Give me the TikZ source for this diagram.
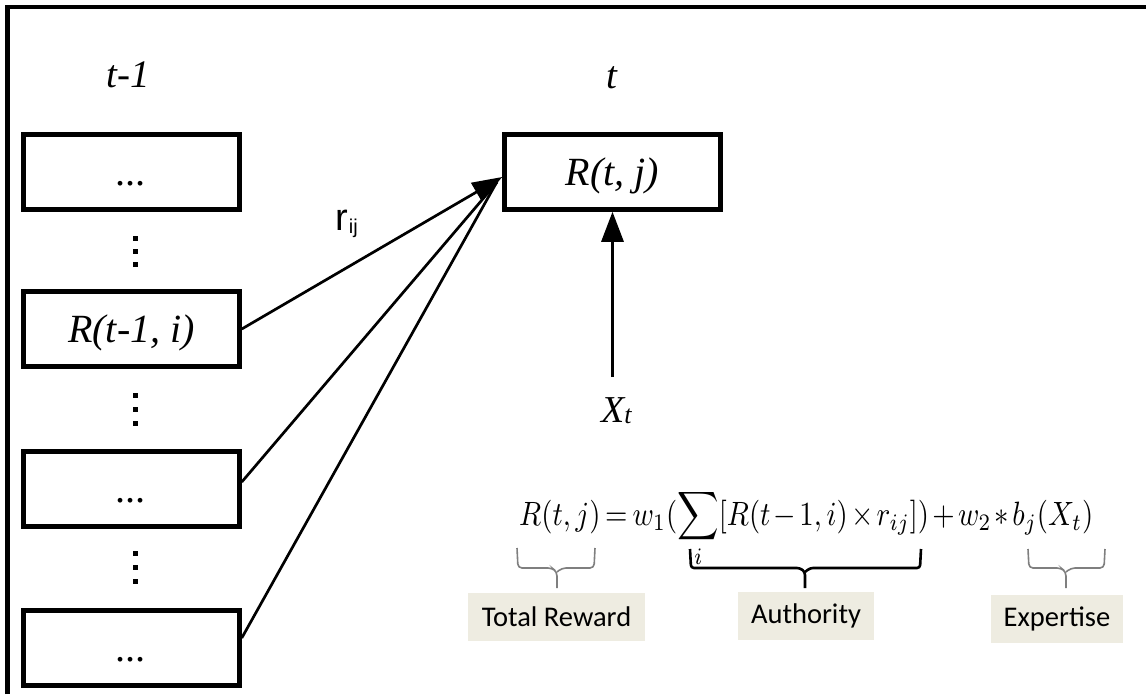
\documentclass[tikz,border=0pt]{standalone}
\usepackage{fontspec}
\setmainfont{Liberation Serif}
\newfontfamily\labelfont{Carlito}
\newfontfamily\weightfont{Liberation Sans}
\usetikzlibrary{arrows.meta,calc}
\definecolor{labelbg}{HTML}{EEECE1}
\definecolor{bracegray}{HTML}{7F7F7F}

\begin{document}
\begin{tikzpicture}[x=1pt,y=-1pt,
  cell/.style={draw, line width=4.5pt, minimum width=216pt, minimum height=75pt,
    inner sep=0pt, font=\fontsize{40}{40}\selectfont\itshape,
    text height=31pt, text depth=5pt},
  steplabel/.style={anchor=base, font=\fontsize{39}{39}\selectfont\itshape, inner sep=0pt},
  vdot/.style={fill, rectangle, minimum size=5pt, inner sep=0pt},
  arr/.style={line width=2.7pt, -{Triangle[length=30pt,width=21pt]}},
  feed/.style={line width=2.7pt},
  thinbrace/.style={draw=bracegray, line width=1.6pt, rounded corners=4pt},
  boldbrace/.style={draw=black, line width=2.6pt, rounded corners=3pt},
  tag/.style={fill=labelbg, inner sep=0pt, minimum height=48pt,
    font=\labelfont\fontsize{28.5}{28.5}\selectfont}
]
\useasboundingbox (0,0) rectangle (1146,694);

% outer frame (top and left edges only)
\draw[line width=4.5pt] (7.5,694) -- (7.5,7) -- (1146,7);

% time step headers
\node[steplabel] (tprev) at (128,87) {t-1};
\node[steplabel] (tcur) at (612,88) {t};

% states at step t-1
\node[cell] (b1) at (131.5,172) {...};
\node[cell] (b2) at (131.5,329) {R(t-1, i)};
\node[cell] (b3) at (131.5,489) {...};
\node[cell] (b4) at (131.5,648) {...};

% elision dots between the states
\foreach \k/\y in {1/238,2/251,3/264} { \node[vdot] (da\k) at (135,\y) {}; }
\foreach \k/\y in {1/395,2/409,3/423} { \node[vdot] (db\k) at (135,\y) {}; }
\foreach \k/\y in {1/553,2/567,3/581} { \node[vdot] (dc\k) at (135,\y) {}; }

% state at step t
\node[cell] (rt) at (612.5,172) {R(t, j)};

% transition weight label
\node[anchor=base west, inner sep=0pt, font=\weightfont\fontsize{38}{38}\selectfont] (rij)
  at (335,230) {r\kern1pt\raisebox{-3pt}{\fontsize{20}{20}\selectfont ij}};

% transitions into R(t, j)
\draw[feed] ($(b3.east)+(0,-7)$) -- ($(rt.west)+(-5,10)$);
\draw[feed] ($(b4.east)+(0,-10)$) -- ($(rt.west)+(-6,11)$);
\draw[arr] (b2.east) -- ($(rt.west)+(0,5)$);

% observation input
\node[anchor=base west, inner sep=0pt, font=\fontsize{38}{38}\selectfont\itshape] (xt)
  at (601,422) {X\raisebox{-1pt}{\fontsize{26}{26}\selectfont t}};
\coordinate (xsrc) at (612.5,377);
\draw[line width=3pt, -{Triangle[length=30pt,width=22pt]}] (xsrc) -- (rt.south);

% reward equation
\node[anchor=base west, inner sep=0pt] (eq) at (519,525)
  {\scalebox{1}[1.17]{\resizebox{574pt}{!}{\thickmuskip=3mu\medmuskip=2mu
   $R(t,j) = w_1(\displaystyle\sum_i[R(t-1,i)\times r_{ij}]) + w_2 \ast b_j(X_t)$}}};

% braces under the terms
\draw[thinbrace] (517,548) -- (518,568) -- (552,568) -- (557,572) -- (557,588);
\draw[thinbrace] (557,572) -- (562,568) -- (594,568) -- (595,548);
\draw[boldbrace] (690,549) -- (691,568) -- (800,568) -- (805,572) -- (805,588);
\draw[boldbrace] (805,572) -- (810,568) -- (920,568) -- (921,549);
\draw[thinbrace] (1028,549) -- (1029,568) -- (1061,568) -- (1066,572) -- (1066,588);
\draw[thinbrace] (1066,572) -- (1071,568) -- (1104,568) -- (1105,549);

% term labels
\node[tag, minimum width=177pt] (total) at (556.5,617) {Total Reward};
\node[tag, minimum width=136pt] (auth) at (806,616) {Authority};
\node[tag, minimum width=132pt] (expert) at (1057,618.5) {Expertise};
\end{tikzpicture}
\end{document}
